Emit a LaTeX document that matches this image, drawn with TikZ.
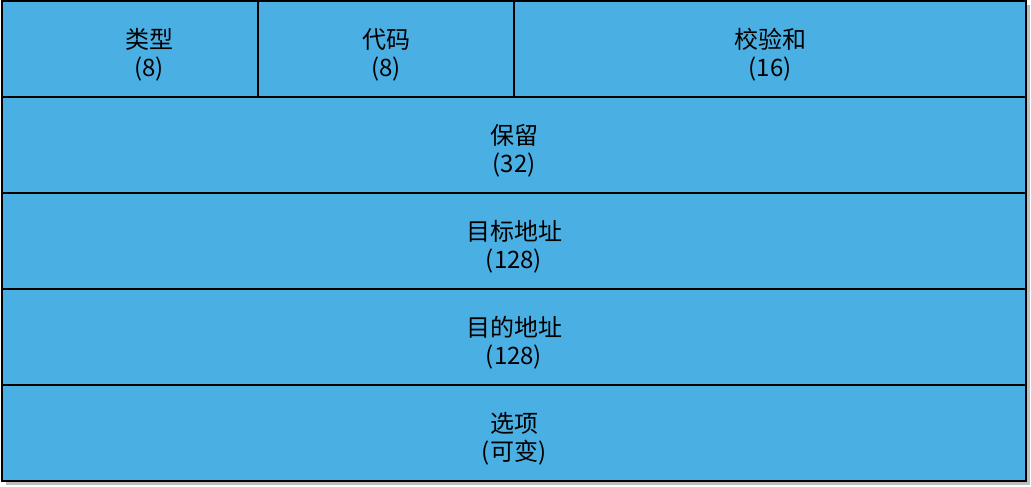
\documentclass[tikz,border=0pt]{standalone}
\usepackage{fontspec}
\setmainfont{Noto Sans CJK SC}
\usepackage{xcolor}
\usetikzlibrary{positioning}
\definecolor{fieldblue}{RGB}{74,175,227}
\definecolor{shadowgray}{RGB}{190,190,190}

\begin{document}
\begin{tikzpicture}[x=1pt,y=1pt]
  \tikzset{fieldfont/.style = {font=\fontsize{24}{28}\selectfont}}
  \tikzset{field/.style = {shape=rectangle,draw=black,fill=fieldblue,line width=1.4pt,
      minimum height=96pt,inner sep=0pt,outer sep=0pt}}
  \tikzset{fieldtext/.style = {label={[shift={(0,-6)},align=center,fieldfont]center:{#1}}}}
  \tikzset{halffield/.style = {field,minimum width=256pt}}
  \tikzset{widefield/.style = {field,minimum width=1024pt}}

  \useasboundingbox (0,0) rectangle (1031,487);
  % shadow
  \fill[shadowgray] (6,2) rectangle (1030,482);

	\node[halffield, label={[shift={(19,-6)},align=center,fieldfont]center:{类型\\(8)}}] (type) at (130,438) {};
	\node[halffield, right=0pt of type, fieldtext={代码\\(8)}] (code) {};
	\node[field, minimum width=512pt, right=0pt of code, fieldtext={校验和\\(16)}] (checksum) {};

	\node[widefield, fieldtext={保留\\(32)}] (reserved) at (514,342) {};
	\node[widefield, below=0pt of reserved, fieldtext={目标地址\\(128)}] (srcaddr) {};
	\node[widefield, below=0pt of srcaddr, fieldtext={目的地址\\(128)}] (dstaddr) {};
	\node[widefield, below=0pt of dstaddr, fieldtext={选项\\(可变)}] (options) {};

\end{tikzpicture}
\end{document}
